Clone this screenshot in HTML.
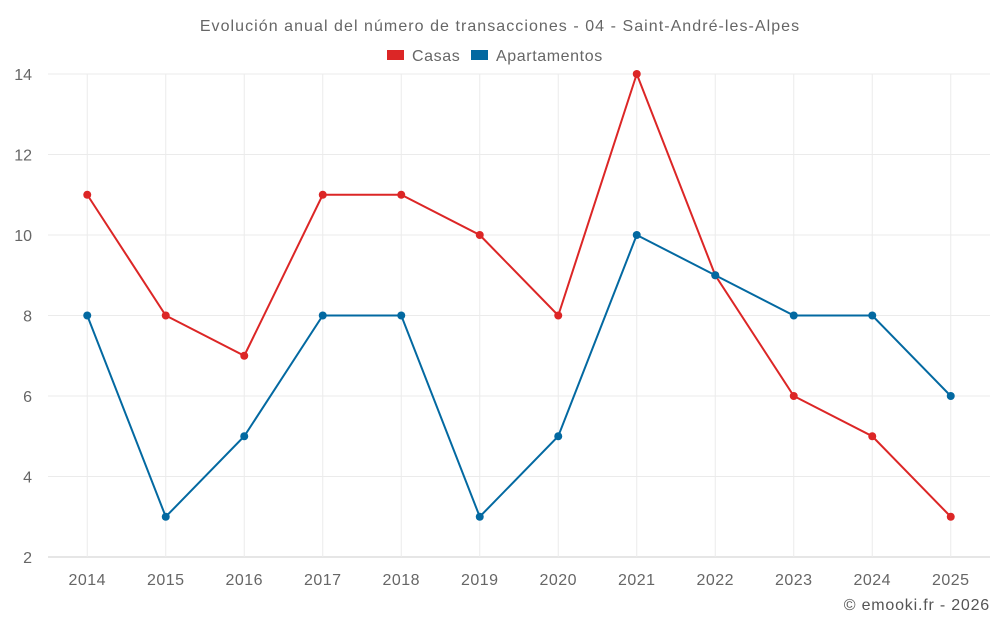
<!DOCTYPE html>
<html><head><meta charset="utf-8">
<style>
html,body{margin:0;padding:0;background:#fff;}
body{width:1000px;height:625px;overflow:hidden;font-family:"Liberation Sans",sans-serif;}
svg text{font-family:"Liberation Sans",sans-serif;}
</style></head>
<body>
<svg id="chart" width="1000" height="625">
<text x="500" y="31" text-anchor="middle" font-size="16" letter-spacing="1.05" fill="#666">Evolución anual del número de transacciones - 04 - Saint-André-les-Alpes</text>
<g>
<g><rect x="387" y="50" width="17" height="10" fill="#dc2626"/><text x="412" y="61" font-size="16" letter-spacing="0.6" fill="#666">Casas</text></g>
<g><rect x="471" y="50" width="17" height="10" fill="#0369a1"/><text x="496" y="61" font-size="16" letter-spacing="0.6" fill="#666">Apartamentos</text></g>
</g>
<g id="grid"></g>
<g id="axes"></g>
<g id="series"></g>
<text x="990" y="610" text-anchor="end" font-size="16" letter-spacing="0.8" fill="#555">© emooki.fr - 2026</text>
</svg>
<script>
const years = ["2014","2015","2016","2017","2018","2019","2020","2021","2022","2023","2024","2025"];
const casas = [11,8,7,11,11,10,8,14,9,6,5,3];
const apartamentos = [8,3,5,8,8,3,5,10,9,8,8,6];
const yTicks = [2,4,6,8,10,12,14];

const NS="http://www.w3.org/2000/svg";
const L=48,R=990,T=74,B=557,yMin=2,yMax=14;
const band=(R-L)/years.length;
const xs=i=>L+band*(i+0.5);
const ys=v=>B-(v-yMin)/(yMax-yMin)*(B-T);
function mk(tag,attrs,parent){const e=document.createElementNS(NS,tag);for(const k in attrs)e.setAttribute(k,attrs[k]);parent.appendChild(e);return e;}
const grid=document.getElementById('grid'),axes=document.getElementById('axes'),series=document.getElementById('series');
yTicks.forEach(t=>{
  const l=mk('line',{x1:L,x2:R,y1:ys(t),y2:ys(t),stroke:t===yMin?'#ccc':'#ebebeb','stroke-width':1},grid);
  
  
  const tx=mk('text',{x:32,y:ys(t)+6,'text-anchor':'end','font-size':16,fill:'#666'},axes);
  tx.textContent=t;
  
  
});
years.forEach((y,i)=>{
  const l=mk('line',{x1:xs(i),x2:xs(i),y1:T,y2:B,stroke:'#ebebeb','stroke-width':1},grid);
  
  
  const tx=mk('text',{x:xs(i),y:585,'text-anchor':'middle','font-size':16,fill:'#666','letter-spacing':0.5},axes);
  tx.textContent=y;
  
  
});
[[casas,'#dc2626','casas'],[apartamentos,'#0369a1','apartamentos']].forEach(([d,c,n])=>{
  const p=mk('polyline',{points:d.map((v,i)=>xs(i)+','+ys(v)).join(' '),fill:'none',stroke:c,'stroke-width':2},series);
  
  
  d.forEach((v,i)=>{
    const ci=mk('circle',{cx:xs(i),cy:ys(v),r:4,fill:c},series);
    
    
  });
});
</script>
</body></html>
